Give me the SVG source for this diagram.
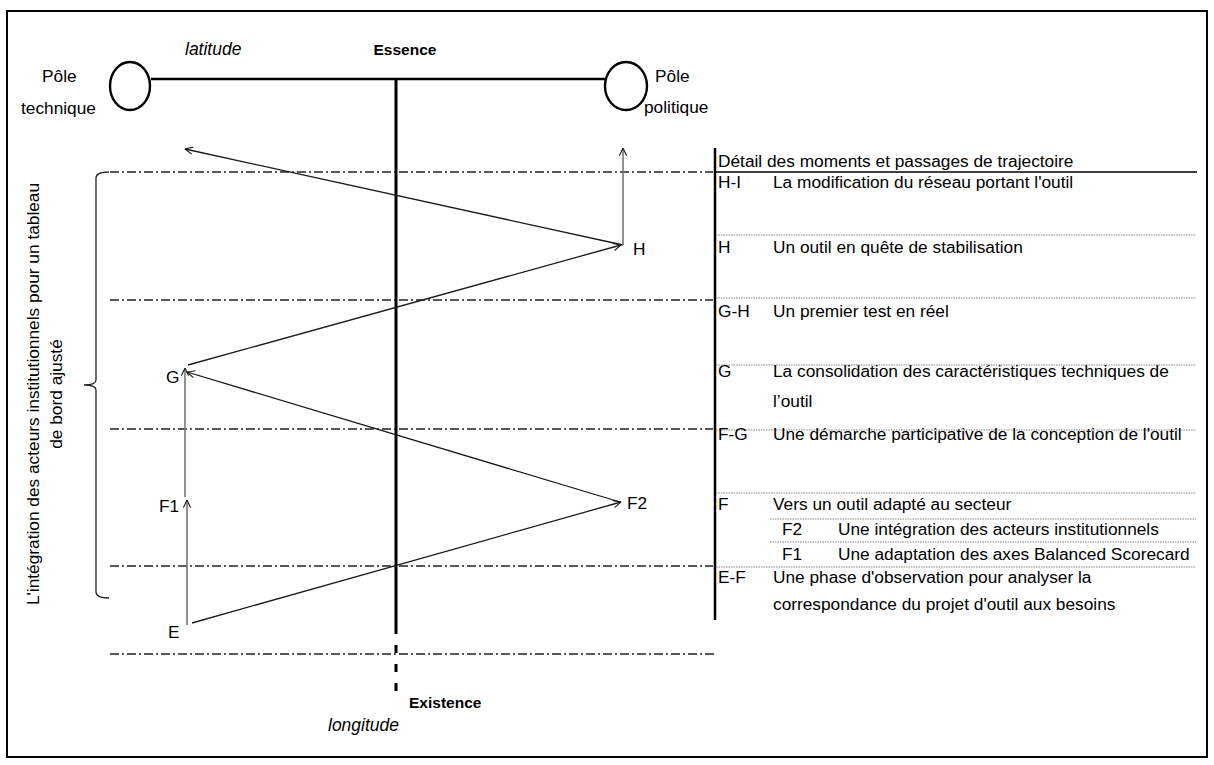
<svg xmlns="http://www.w3.org/2000/svg" width="1214" height="765" viewBox="0 0 1214 765">
<style>
text{font-family:"Liberation Sans",Arial,sans-serif;font-size:17.3px;fill:#000}
.b{font-weight:bold;font-size:15.5px}
.i{font-style:italic;font-size:17.5px}
.dd{stroke:#222;stroke-width:1.3;stroke-dasharray:9 3 2 3;fill:none}
.tl{stroke:#888;stroke-width:1.2;stroke-dasharray:1.5 1;fill:none}
.c{stroke:#1a1a1a;stroke-width:1.3;fill:none}
.cg{stroke:#777;stroke-width:1.6;fill:none}
</style>
<defs>
<marker id="ah" viewBox="0 0 10 10" refX="9.5" refY="5" markerWidth="9" markerHeight="9" markerUnits="userSpaceOnUse" orient="auto">
<path d="M1,1 L9.5,5 L1,9" fill="none" stroke="#1a1a1a" stroke-width="1.2"/>
</marker>
</defs>
<rect x="7" y="11" width="1200" height="746" fill="#fff" stroke="#000" stroke-width="2"/>

<g id="axes">
<line x1="151" y1="79" x2="605" y2="79" stroke="#000" stroke-width="2.6"/>
<line x1="396" y1="79" x2="396" y2="634" stroke="#000" stroke-width="3"/>
<line x1="396" y1="645" x2="396" y2="693" stroke="#000" stroke-width="3" stroke-dasharray="8 11"/>
<text x="185" y="55" class="i">latitude</text>
<text x="405" y="55" class="b" text-anchor="middle">Essence</text>
<text x="409" y="708" class="b">Existence</text>
<text x="328" y="731" class="i">longitude</text>
</g>

<g id="pole-technique">
<ellipse cx="130" cy="86" rx="20" ry="24" fill="#fff" stroke="#000" stroke-width="2.4"/>
<text x="42" y="82">Pôle</text>
<text x="21" y="114">technique</text>
</g>
<g id="pole-politique">
<ellipse cx="626" cy="86" rx="21" ry="24" fill="#fff" stroke="#000" stroke-width="2.4"/>
<text x="655" y="82">Pôle</text>
<text x="644" y="113">politique</text>
</g>

<g id="phases">
<line x1="110" y1="172" x2="713" y2="172" class="dd"/>
<line x1="110" y1="300" x2="713" y2="300" class="dd"/>
<line x1="110" y1="429" x2="713" y2="429" class="dd"/>
<line x1="110" y1="566" x2="713" y2="566" class="dd"/>
<line x1="110" y1="654" x2="715" y2="654" class="dd"/>
</g>

<g id="brace">
<path d="M109,172 Q96,172 96,178 L96,380 Q96,385 84,385 Q96,385 96,390 L96,592 Q96,598 109,598" fill="none" stroke="#222" stroke-width="1.3"/>
<text transform="translate(39,394) rotate(-90)" text-anchor="middle">L'intégration des acteurs institutionnels pour un tableau</text>
<text transform="translate(62,394) rotate(-90)" text-anchor="middle">de bord ajusté</text>
</g>

<g id="connectors">
<line x1="623" y1="245" x2="185" y2="149" class="c" marker-end="url(#ah)"/>
<line x1="623" y1="245" x2="623" y2="148" class="cg" marker-end="url(#ah)"/>
<line x1="188" y1="365" x2="621" y2="245" class="c" marker-end="url(#ah)"/>
<line x1="620" y1="502" x2="187" y2="372" class="c" marker-end="url(#ah)"/>
<line x1="185" y1="497" x2="185" y2="368" class="cg" marker-end="url(#ah)"/>
<line x1="187" y1="625" x2="187" y2="500" class="cg" marker-end="url(#ah)"/>
<line x1="192" y1="623" x2="621" y2="502" class="c" marker-end="url(#ah)"/>
</g>

<g id="node-H"><text x="633" y="255">H</text></g>
<g id="node-G"><text x="166" y="383">G</text></g>
<g id="node-F2"><text x="627" y="509">F2</text></g>
<g id="node-F1"><text x="159" y="512">F1</text></g>
<g id="node-E"><text x="168" y="638">E</text></g>

<g id="table">
<line x1="715" y1="148" x2="715" y2="620" stroke="#000" stroke-width="2.5"/>
<line x1="715" y1="172" x2="1197" y2="172" stroke="#000" stroke-width="1.5"/>
<line x1="716" y1="235" x2="1196" y2="235" class="tl"/>
<line x1="716" y1="298" x2="1196" y2="298" class="tl"/>
<line x1="716" y1="365" x2="1196" y2="365" class="tl"/>
<line x1="716" y1="430" x2="1196" y2="430" class="tl"/>
<line x1="716" y1="493" x2="1196" y2="493" class="tl"/>
<line x1="770" y1="519" x2="1196" y2="519" class="tl"/>
<line x1="770" y1="542" x2="1196" y2="542" class="tl"/>
<line x1="716" y1="567" x2="1196" y2="567" class="tl"/>
<text x="718" y="167">Détail des moments et passages de trajectoire</text>
<text x="718" y="188">H-I</text><text x="773" y="188">La modification du réseau portant l'outil</text>
<text x="718" y="253">H</text><text x="773" y="253">Un outil en quête de stabilisation</text>
<text x="718" y="317">G-H</text><text x="773" y="317">Un premier test en réel</text>
<text x="718" y="377">G</text><text x="773" y="377">La consolidation des caractéristiques techniques de</text>
<text x="773" y="407">l’outil</text>
<text x="718" y="440">F-G</text><text x="773" y="440">Une démarche participative de la conception de l'outil</text>
<text x="718" y="510">F</text><text x="773" y="510">Vers un outil adapté au secteur</text>
<text x="782" y="535">F2</text><text x="838" y="535">Une intégration des acteurs institutionnels</text>
<text x="782" y="560">F1</text><text x="838" y="560">Une adaptation des axes Balanced Scorecard</text>
<text x="718" y="583">E-F</text><text x="773" y="583">Une phase d'observation pour analyser la</text>
<text x="773" y="610">correspondance du projet d'outil aux besoins</text>
</g>
</svg>
